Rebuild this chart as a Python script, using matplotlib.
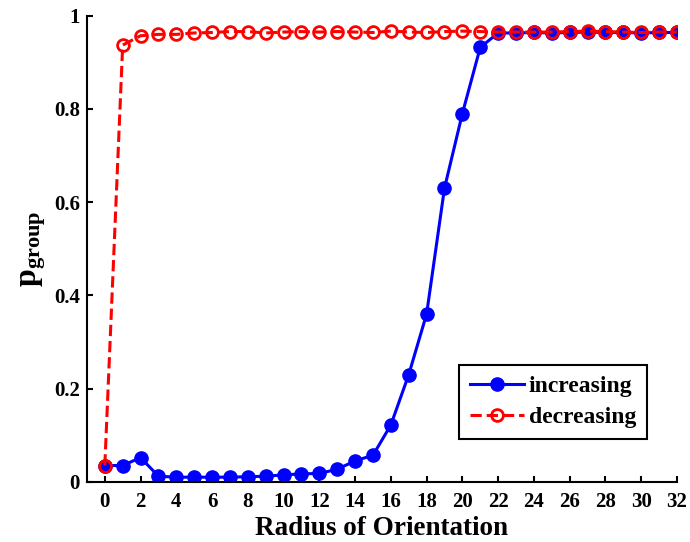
import numpy as np
import matplotlib.pyplot as plt

# Fraction of groups vs. radius of orientation
radius = np.arange(0, 33)
increasing = [0.035, 0.035, 0.052, 0.012, 0.010, 0.010, 0.010, 0.010, 0.011, 0.012,
              0.015, 0.017, 0.018, 0.027, 0.045, 0.057, 0.122, 0.230, 0.360, 0.630,
              0.790, 0.932, 0.963, 0.963, 0.964, 0.963, 0.964, 0.965, 0.964, 0.964,
              0.963, 0.964, 0.964]
decreasing = [0.035, 0.937, 0.957, 0.960, 0.960, 0.963, 0.964, 0.966, 0.966, 0.963,
              0.965, 0.966, 0.965, 0.966, 0.965, 0.964, 0.967, 0.965, 0.964, 0.966,
              0.967, 0.966, 0.965, 0.965, 0.965, 0.965, 0.966, 0.967, 0.966, 0.965,
              0.964, 0.965, 0.965]

plt.rcParams['font.family'] = 'Liberation Serif'
plt.rcParams['font.weight'] = 'bold'
plt.rcParams['mathtext.fontset'] = 'custom'
plt.rcParams['mathtext.rm'] = 'Liberation Serif:bold'
plt.rcParams['mathtext.bf'] = 'Liberation Serif:bold'
plt.rcParams['mathtext.it'] = 'Liberation Serif:bold'

fig = plt.figure(figsize=(6.9, 5.42), dpi=100)
ax = fig.add_axes([0.126, 0.111, 0.855, 0.860])

ax.plot(radius, increasing, '-o', color='#0000ff', lw=2.2, ms=9.5,
        mfc='#0000ff', mec='#0000ff', label='increasing')
ax.plot(radius, decreasing, '--o', color='#ff0000', lw=2.2, ms=8.5,
        mfc='none', mec='#ff0000', mew=2.0, label='decreasing')

ax.set_xlim(-1, 32)
ax.set_ylim(0, 1)
ax.set_xticks(np.arange(0, 33, 2))
ax.set_yticks([0, 0.2, 0.4, 0.6, 0.8, 1])
ax.set_yticklabels(['0', '0.2', '0.4', '0.6', '0.8', '1'])
ax.tick_params(direction='in', length=4, width=1.5, labelsize=15)
ax.tick_params(axis='x', pad=7)
ax.tick_params(axis='y', pad=5)
ax.spines['top'].set_visible(False)
ax.spines['right'].set_visible(False)
for s in ['left', 'bottom']:
    ax.spines[s].set_linewidth(1.5)

ax.set_xlabel('Radius of Orientation', fontsize=19.5, fontweight='bold', labelpad=3)
ax.set_ylabel(r'$\mathrm{p}_{\mathrm{group}}$', fontsize=23, labelpad=4)

leg = ax.legend(loc='lower right', bbox_to_anchor=(0.949, 0.092), fontsize=17,
                fancybox=False, edgecolor='black', framealpha=1,
                handlelength=2.3, handletextpad=0.2, borderpad=0.45,
                labelspacing=0.4, borderaxespad=0)
leg.get_frame().set_linewidth(1.5)
for t in leg.get_texts():
    t.set_fontweight('bold')

fig.savefig('out.png', dpi=100)
